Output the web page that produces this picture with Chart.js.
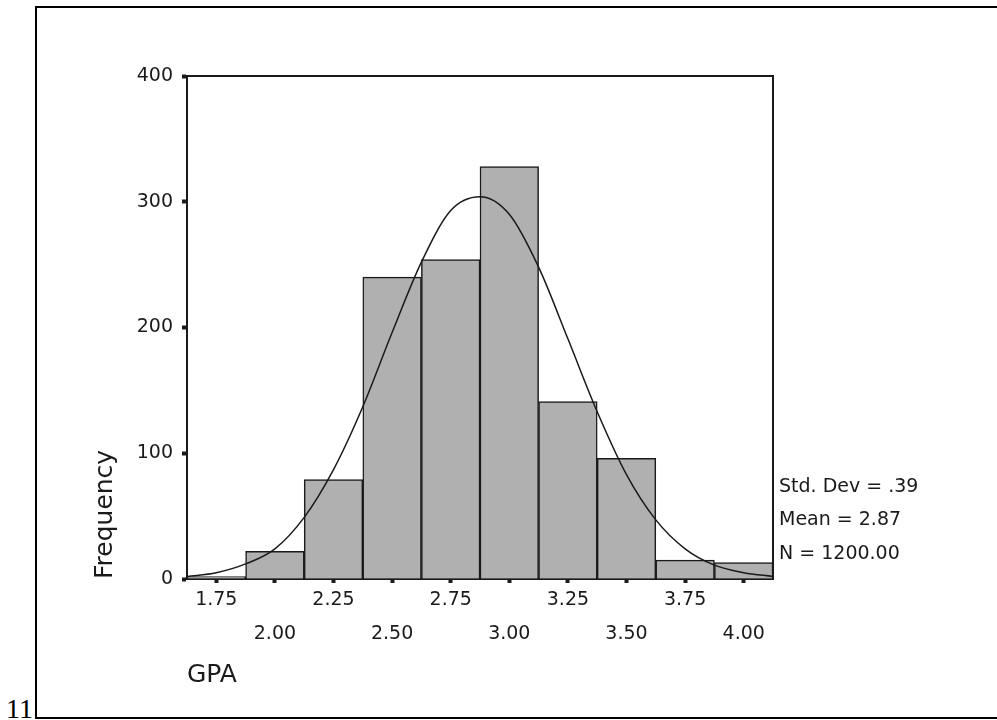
<!DOCTYPE html>
<html>
<head>
<meta charset="utf-8">
<script src="https://cdn.jsdelivr.net/npm/chart.js@4/dist/chart.umd.min.js"></script>
<style>
    body{ margin:0; background:#fff; }
    #frame{ position:absolute; left:35px; top:6px; width:1000px; height:709px; border:2px solid #000; }
    #num{ position:absolute; left:6px; top:695px; font:28px 'Liberation Serif'; line-height:28px; color:#000; }
    #myChart{ position:absolute; left:0; top:0; }
</style>
</head>
<body>
<div id="frame"></div>
<div id="num">11</div>
<canvas id="myChart" width="997" height="720"></canvas>
<script>
const $ = (selector)=>{
    return document.querySelector(selector);
}

//histogram bins (GPA midpoints) and their counts
const bins = [1.75, 2.00, 2.25, 2.50, 2.75, 3.00, 3.25, 3.50, 3.75, 4.00];
const binLabels = ['1.75', '2.00', '2.25', '2.50', '2.75', '3.00', '3.25', '3.50', '3.75', '4.00'];
const counts = [2, 22, 79, 240, 254, 328, 141, 96, 15, 13];

//normal curve
const curveX = [1.625, 1.75, 1.875, 2.0, 2.125, 2.25, 2.375, 2.5, 2.625, 2.75, 2.875, 3.0, 3.125, 3.25, 3.375, 3.5, 3.625, 3.75, 3.875, 4.0, 4.125];
const curveY = [2, 5, 12, 24, 49, 87, 137, 196, 252, 293, 304, 290, 248, 191, 133, 83, 47, 24, 11, 5, 2];

const yTicks = [0, 100, 200, 300, 400];
const stats = ['Std. Dev = .39', 'Mean = 2.87', 'N = 1200.00'];

const ink = '#1a1a1a';
const tickFont = { family: 'DejaVu Sans', size: 19 };

//top and right edges of the plot box
const boxPlugin = {
    id: 'box',
    afterDatasetsDraw: (chart)=>{
        const { ctx, chartArea: a } = chart;
        ctx.save();
        ctx.strokeStyle = ink;
        ctx.lineWidth = 2;
        ctx.beginPath();
        ctx.moveTo(a.left, a.top);
        ctx.lineTo(a.right, a.top);
        ctx.lineTo(a.right, a.bottom);
        ctx.stroke();
        ctx.restore();
    }
}

//summary text right of the plot
const statsPlugin = {
    id: 'stats',
    afterDraw: (chart)=>{
        const { ctx, chartArea: a } = chart;
        ctx.save();
        ctx.font = '19px "DejaVu Sans"';
        ctx.fillStyle = ink;
        ctx.textBaseline = 'middle';
        ctx.textAlign = 'left';
        stats.forEach((s, i)=>{
            ctx.fillText(s, a.right + 6, 487 + i * 33.5);
        });
        ctx.restore();
    }
}

const ctx = $('#myChart').getContext('2d');
new Chart(ctx, {
    type: 'bar',
    data: {
        datasets: [{
            type: 'line',
            data: curveX.map((x, i)=>({ x: x, y: curveY[i] })),
            borderColor: ink,
            borderWidth: 1.5,
            pointRadius: 0,
            cubicInterpolationMode: 'monotone',
            fill: false,
            order: 0
        }, {
            data: bins.map((x, i)=>({ x: x, y: counts[i] })),
            backgroundColor: '#b0b0b0',
            borderColor: ink,
            borderWidth: 1.5,
            barPercentage: 1,
            categoryPercentage: 1,
            grouped: false,
            order: 1
        }]
    },
    options: {
        responsive: false,
        animation: false,
        devicePixelRatio: 1,
        layout: { padding: { left: 0, top: 76, right: 224, bottom: 0 } },
        plugins: { legend: { display: false }, tooltip: { enabled: false } },
        scales: {
            x: {
                type: 'linear',
                min: 1.625,
                max: 4.125,
                offset: false,
                afterFit: (s)=>{ s.height = 141; },
                afterBuildTicks: (s)=>{ s.ticks = bins.map(v=>({ value: v })); },
                grid: { drawOnChartArea: false, offset: false, tickLength: 4, tickWidth: 4, tickColor: ink },
                border: { color: ink, width: 2 },
                ticks: {
                    padding: 0,
                    color: ink,
                    font: { family: 'DejaVu Sans', size: 19, lineHeight: '34px' },
                    maxRotation: 0,
                    autoSkip: false,
                    callback: (v, i)=> i % 2 == 0 ? [binLabels[i]] : ['', binLabels[i]]
                },
                title: {
                    display: true,
                    text: 'GPA',
                    align: 'start',
                    color: ink,
                    font: { family: 'DejaVu Sans', size: 25 },
                    padding: { top: 0, bottom: 30 }
                }
            },
            y: {
                min: 0,
                max: 400,
                afterFit: (s)=>{ s.width = 187; },
                afterBuildTicks: (s)=>{ s.ticks = yTicks.map(v=>({ value: v })); },
                grid: { drawOnChartArea: false, tickLength: 5, tickWidth: 4, tickColor: ink },
                border: { color: ink, width: 2 },
                ticks: { padding: 9, color: ink, font: tickFont },
                title: {
                    display: true,
                    text: 'Frequency',
                    align: 'start',
                    color: ink,
                    font: { family: 'DejaVu Sans', size: 25 },
                    padding: { top: 90, bottom: 0 }
                }
            }
        }
    },
    plugins: [boxPlugin, statsPlugin]
});
</script>
</body>
</html>
